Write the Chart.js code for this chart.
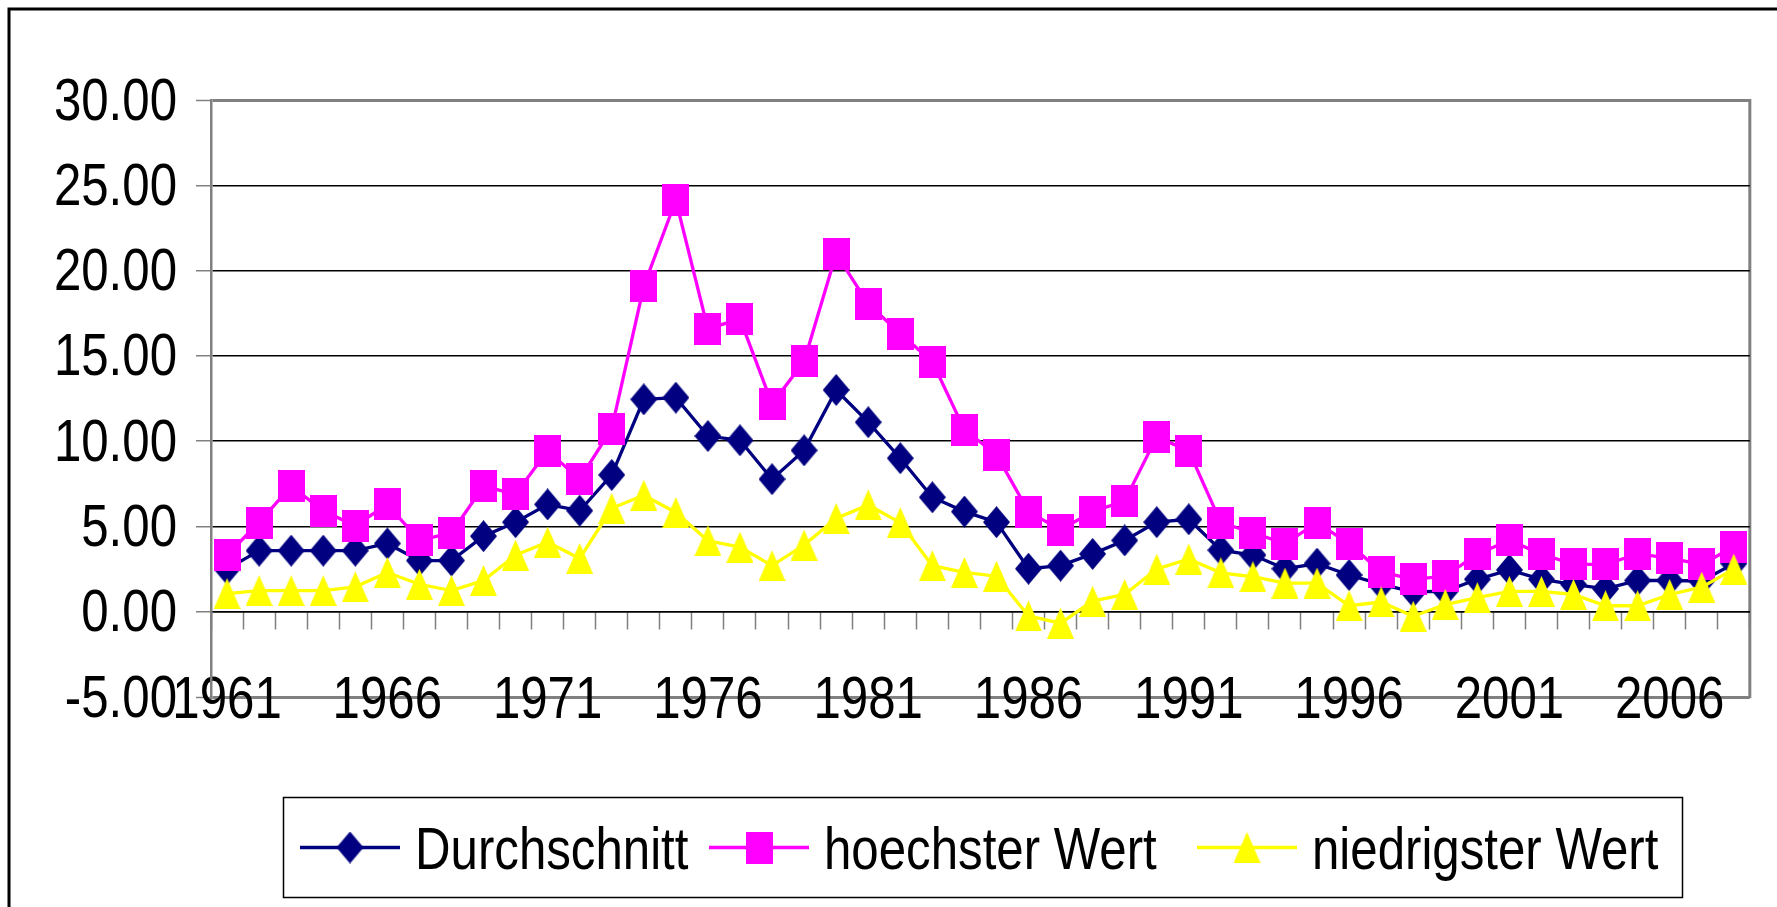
<!DOCTYPE html>
<html>
<head>
<meta charset="utf-8">
<script src="https://cdn.jsdelivr.net/npm/chart.js"></script>
<style>
  html, body { margin: 0; padding: 0; background: #fff; }
  #wrap { width: 1777px; height: 907px; position: relative; }
</style>
</head>
<body>
<div id="wrap"><canvas id="chart"></canvas></div>
<script>
// data
const years = [];
for (let y = 1961; y <= 2008; y++) years.push(String(y));
const tickYears = ["1961", "1966", "1971", "1976", "1981", "1986", "1991", "1996", "2001", "2006"];
const yTicks = [-5, 0, 5, 10, 15, 20, 25, 30];

const avgValues = [
  2.5, 3.58, 3.58, 3.58, 3.58, 4.0, 3.0, 3.0, 4.43, 5.25,
  6.29, 5.92, 8.02, 12.45, 12.55, 10.3, 10.05, 7.77, 9.46, 13.0,
  11.11, 9.0, 6.71, 5.87, 5.25, 2.52, 2.7, 3.39, 4.18, 5.25,
  5.42, 3.61, 3.32, 2.52, 2.82, 2.15, 1.6, 1.16, 1.2, 1.9,
  2.45, 1.9, 1.6, 1.34, 1.83, 1.83, 1.8, 2.82
];
const maxValues = [
  3.33, 5.23, 7.37, 5.92, 5.04, 6.29, 4.18, 4.63, 7.35, 6.9,
  9.43, 7.77, 10.74, 19.08, 24.12, 16.58, 17.17, 12.19, 14.67, 20.99,
  18.04, 16.31, 14.65, 10.67, 9.21, 5.87, 4.8, 5.87, 6.49, 10.25,
  9.43, 5.22, 4.63, 3.99, 5.22, 3.99, 2.33, 1.9, 2.08, 3.39,
  4.18, 3.39, 2.77, 2.77, 3.39, 3.14, 2.77, 3.81
];
const minValues = [
  1.06, 1.24, 1.24, 1.24, 1.46, 2.3, 1.61, 1.24, 1.83, 3.32,
  4.08, 3.12, 6.06, 6.83, 5.82, 4.16, 3.79, 2.7, 3.91, 5.47,
  6.26, 5.22, 2.7, 2.3, 2.08, -0.25, -0.67, 0.62, 1.01, 2.5,
  3.09, 2.28, 2.05, 1.68, 1.68, 0.35, 0.57, -0.27, 0.42, 0.82,
  1.19, 1.19, 1.01, 0.35, 0.35, 1.01, 1.44, 2.5
];

const seriesNames = ["Durchschnitt", "hoechster Wert", "niedrigster Wert"];

const NAVY = "#000080";
const MAGENTA = "#ff00ff";
const YELLOW = "#ffff00";
const FONT_FAMILY = "'Liberation Sans', Arial, sans-serif";
const font = { family: FONT_FAMILY, size: 60, lineHeight: 1 };

// the original uses a narrow font: squeeze all canvas text horizontally
const canvas = document.getElementById("chart");
const c2d = canvas.getContext("2d");
const nativeFillText = c2d.fillText;
c2d.fillText = function (text, x, y, maxWidth) {
  this.save();
  this.translate(x, y);
  this.scale(0.82, 1);
  if (maxWidth === undefined) nativeFillText.call(this, text, 0, 0);
  else nativeFillText.call(this, text, 0, 0, maxWidth / 0.82);
  this.restore();
};

// excel-like markers (slightly taller than wide, like the original)
function makeMarker(kind, color) {
  const c = document.createElement("canvas");
  c.width = 27;
  c.height = kind === "triangle" ? 31 : 32;
  const g = c.getContext("2d");
  g.fillStyle = color;
  g.beginPath();
  if (kind === "diamond") {
    g.moveTo(13.5, 0); g.lineTo(27, 16); g.lineTo(13.5, 32); g.lineTo(0, 16);
  } else if (kind === "square") {
    g.rect(0, 0, 27, 32);
  } else {
    g.moveTo(13.5, 0); g.lineTo(27, 31); g.lineTo(0, 31);
  }
  g.closePath();
  g.fill();
  return c;
}
const markers = [makeMarker("diamond", NAVY), makeMarker("square", MAGENTA), makeMarker("triangle", YELLOW)];

// outer frame, plot border on the right
const framePlugin = {
  id: "frame",
  beforeDraw(chart) {
    const { ctx, chartArea } = chart;
    ctx.save();
    ctx.strokeStyle = "#000";
    ctx.lineWidth = 3;
    ctx.strokeRect(9, 9, 1800, 1000);
    ctx.strokeStyle = "#808080";
    ctx.lineWidth = 3;
    ctx.beginPath();
    ctx.moveTo(chartArea.right, chartArea.top - 1);
    ctx.lineTo(chartArea.right, chartArea.bottom + 1);
    ctx.stroke();
    ctx.restore();
  }
};

// legend box like the original
const legendPlugin = {
  id: "excelLegend",
  afterDraw(chart) {
    const ctx = chart.ctx;
    const itemX = [300, 709, 1197];
    const lineY = 847.5;
    ctx.save();
    ctx.strokeStyle = "#000";
    ctx.lineWidth = 1.5;
    ctx.strokeRect(283.5, 797.5, 1399, 100);
    chart.data.datasets.forEach((ds, i) => {
      const x0 = itemX[i];
      ctx.strokeStyle = ds.borderColor;
      ctx.lineWidth = 3.3;
      ctx.beginPath();
      ctx.moveTo(x0, lineY);
      ctx.lineTo(x0 + 100, lineY);
      ctx.stroke();
      if (Chart.helpers && Chart.helpers.drawPoint) {
        Chart.helpers.drawPoint(ctx, { pointStyle: ds.pointStyle, radius: 13, rotation: 0 }, x0 + 50, lineY);
      } else {
        const m = ds.pointStyle;
        ctx.drawImage(m, x0 + 50 - m.width / 2, lineY - m.height / 2);
      }
      ctx.fillStyle = "#000";
      ctx.font = "60px " + FONT_FAMILY;
      ctx.textBaseline = "alphabetic";
      ctx.textAlign = "left";
      ctx.fillText(ds.label, x0 + 115, 869);
    });
    ctx.restore();
  }
};

const edgeGrid = (c) => c.tick && (c.tick.value === 30 || c.tick.value === -5);

new Chart(canvas, {
  type: "line",
  data: {
    labels: years,
    datasets: [
      { label: seriesNames[0], data: avgValues, borderColor: NAVY, backgroundColor: NAVY,
        borderWidth: 3.3, pointStyle: markers[0], pointRadius: 13, tension: 0, order: 3 },
      { label: seriesNames[1], data: maxValues, borderColor: MAGENTA, backgroundColor: MAGENTA,
        borderWidth: 3.3, pointStyle: markers[1], pointRadius: 13, tension: 0, order: 2 },
      { label: seriesNames[2], data: minValues, borderColor: YELLOW, backgroundColor: YELLOW,
        borderWidth: 3.3, pointStyle: markers[2], pointRadius: 13, tension: 0, order: 1 }
    ]
  },
  options: {
    responsive: true,
    maintainAspectRatio: false,
    devicePixelRatio: 1,
    animation: false,
    layout: { padding: { left: 0, top: 100, right: 20, bottom: 210 } },
    plugins: { legend: { display: false }, tooltip: { enabled: false } },
    scales: {
      x: {
        position: { y: 0 },
        offset: true,
        grid: { display: true, drawOnChartArea: false, offset: true, tickLength: 17,
                tickColor: "#808080", tickWidth: 1.5 },
        border: { display: true, color: "#000", width: 1.5 },
        ticks: {
          autoSkip: false, maxRotation: 0, minRotation: 0, padding: 43, color: "#000", font,
          callback: (value, index) => (tickYears.includes(years[index]) ? years[index] : "")
        }
      },
      y: {
        min: yTicks[0],
        max: yTicks[yTicks.length - 1],
        afterBuildTicks: (s) => { s.ticks = yTicks.map((v) => ({ value: v })); },
        afterFit: (s) => { s.width = 211; },
        grid: {
          color: (c) => (edgeGrid(c) ? "#808080" : "#000"),
          lineWidth: (c) => (edgeGrid(c) ? 3 : 1.5),
          tickLength: 15, tickColor: "#808080", tickWidth: 1.5
        },
        border: { color: "#808080", width: 2.5 },
        ticks: { padding: 19, labelOffset: 3, color: "#000", font,
                 callback: (v) => Number(v).toFixed(2) }
      }
    }
  },
  plugins: [framePlugin, legendPlugin]
});
</script>
</body>
</html>
